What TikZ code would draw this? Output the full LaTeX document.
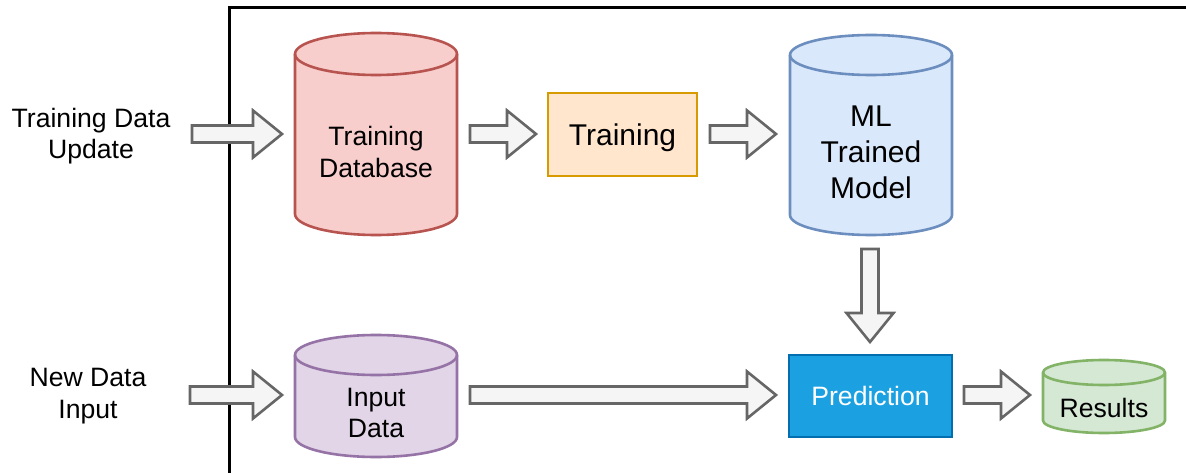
\documentclass[tikz,border=0pt]{standalone}
\usepackage{fontspec}
\setmainfont{Liberation Sans}
\usetikzlibrary{calc}
\definecolor{redF}{HTML}{F8CECC}\definecolor{redS}{HTML}{B85450}
\definecolor{bluF}{HTML}{DAE8FC}\definecolor{bluS}{HTML}{6C8EBF}
\definecolor{purF}{HTML}{E1D5E7}\definecolor{purS}{HTML}{9673A6}
\definecolor{grnF}{HTML}{D5E8D4}\definecolor{grnS}{HTML}{82B366}
\definecolor{orgF}{HTML}{FFE6CC}\definecolor{orgS}{HTML}{D79B00}
\definecolor{preF}{HTML}{1BA1E2}\definecolor{preS}{HTML}{006EAF}
\definecolor{arrF}{HTML}{F5F5F5}\definecolor{arrS}{HTML}{666666}
\newcommand\dbcyl[6]{%
 \pgfmathsetmacro\cylrx{(#3-#2)/2}%
 \path[#1] (#2,#4-#6) -- (#2,#5+#6) arc[start angle=180,end angle=360,x radius=\cylrx,y radius=#6] -- (#3,#4-#6) arc[start angle=0,end angle=180,x radius=\cylrx,y radius=#6] -- cycle;
 \draw[#1,fill=none] (#2,#4-#6) arc[start angle=180,end angle=360,x radius=\cylrx,y radius=#6];}
\newcommand\hblockarrow[2]{\draw[barrow] let \p1=(#1), \p2=(#2) in (\x1,\y1+8.5pt) -- (\x2-29pt,\y1+8.5pt) -- (\x2-29pt,\y1+23.5pt) -- (\x2,\y1) -- (\x2-29pt,\y1-23.5pt) -- (\x2-29pt,\y1-8.5pt) -- (\x1,\y1-8.5pt) -- cycle;}
\newcommand\vblockarrow[2]{\draw[barrow] let \p1=(#1), \p2=(#2) in (\x1-8.5pt,\y1) -- (\x1-8.5pt,\y2+29pt) -- (\x1-23.5pt,\y2+29pt) -- (\x1,\y2) -- (\x1+23.5pt,\y2+29pt) -- (\x1+8.5pt,\y2+29pt) -- (\x1+8.5pt,\y1) -- cycle;}
\begin{document}
\begin{tikzpicture}[x=1pt,y=1pt,
  barrow/.style={draw=arrS,fill=arrF,line width=2.6pt,line join=miter},
  txt/.style={align=center,font=\fontsize{26.6}{31.5}\selectfont,inner sep=0pt},
  bigtxt/.style={align=center,font=\fontsize{30}{36}\selectfont,inner sep=0pt},
  redcyl/.style={draw=redS,fill=redF,line width=2.6pt},
  blucyl/.style={draw=bluS,fill=bluF,line width=2.6pt},
  purcyl/.style={draw=purS,fill=purF,line width=2.6pt},
  grncyl/.style={draw=grnS,fill=grnF,line width=2.6pt}]
\useasboundingbox (0,0) rectangle (1186,472);
\fill[white] (0,0) rectangle (1186,472);
% frame
\draw[line width=3pt] (229,-5) -- (229,464) -- (1195,464);
% cylinders
\dbcyl{redcyl}{295}{457}{439}{237}{21}
\dbcyl{blucyl}{790}{952}{437}{237}{20}
\dbcyl{purcyl}{295}{457}{137}{15}{20}
\dbcyl{grncyl}{1043}{1165}{112}{39}{12.5}
% nodes
\node[txt] (tdu) at (91,336) {Training Data\\Update};
\node[txt] (ndi) at (88,76) {New Data\\Input};
\node[txt] (tdb) at (376,320) {Training\\Database};
\node[bigtxt] (ml) at (871,320) {ML\\Trained\\Model};
\node[txt] (inp) at (376,59) {Input\\Data};
\node[txt] (res) at (1104,64) {Results};
\node[draw=orgS,fill=orgF,line width=2.6pt,minimum width=149pt,minimum height=83pt] (train) at (622.5,337.5) {};
\node[bigtxt] (traintxt) at (622.5,334.5) {Training};
\node[draw=preS,fill=preF,line width=2.6pt,minimum width=163pt,minimum height=82pt,text=white,font=\fontsize{26.6}{31.5}\selectfont] (pred) at (870.5,76) {Prediction};
% arrow end points
\coordinate (a1s) at (192,338); \coordinate (a1e) at (282,338);
\coordinate (a2s) at (470,338); \coordinate (a2e) at (536,338);
\coordinate (a3s) at (710,338); \coordinate (a3e) at (776,338);
\coordinate (a4s) at (870,223); \coordinate (a4e) at (870,130);
\coordinate (a5s) at (190,77); \coordinate (a5e) at (282,77);
\coordinate (a6s) at (470,77); \coordinate (a6e) at (776,77);
\coordinate (a7s) at (964,77); \coordinate (a7e) at (1030,77);
\hblockarrow{a1s}{a1e}
\hblockarrow{a2s}{a2e}
\hblockarrow{a3s}{a3e}
\vblockarrow{a4s}{a4e}
\hblockarrow{a5s}{a5e}
\hblockarrow{a6s}{a6e}
\hblockarrow{a7s}{a7e}
\end{tikzpicture}
\end{document}
